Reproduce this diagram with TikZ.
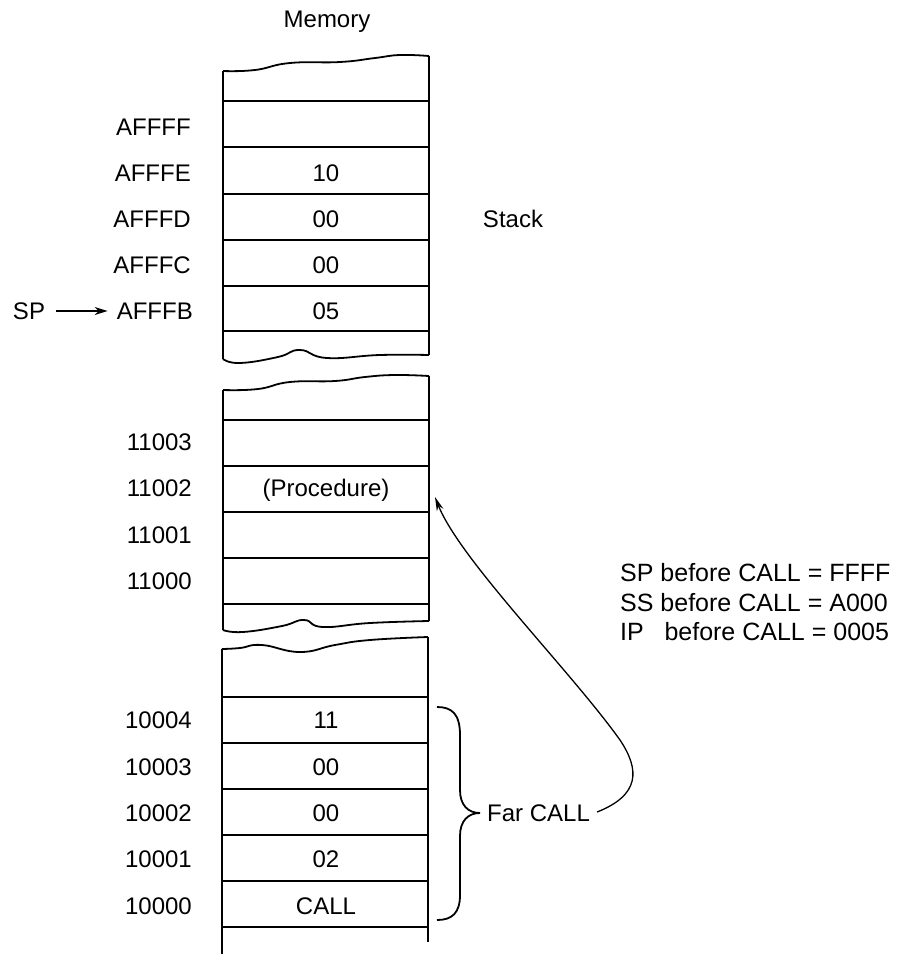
\documentclass[tikz,border=0pt]{standalone}
\usepackage{fontspec}
\setmainfont{Liberation Sans}
\usetikzlibrary{arrows.meta}
\begin{document}
\begin{tikzpicture}[x=1pt,y=-1pt,
  mem/.style={line width=1.8pt,line join=round},
  wavy/.style={mem,smooth,tension=0.8},
  txt/.style={inner sep=0pt,font=\fontsize{24}{28}\selectfont},
  addr/.style={txt,anchor=east},
  cell/.style={txt},
  note/.style={inner sep=0pt,anchor=west,font=\fontsize{25}{28}\selectfont},
  arr/.style={line width=1.3pt,-{Stealth[length=14pt,width=7pt]}}]
\useasboundingbox (0,0) rectangle (904,954);

% ---------- block 1 (stack) ----------
\draw[mem] plot[smooth,tension=0.8] coordinates {(223,71) (255,70) (290,63) (340,62) (375,58) (400,55) (429,56)};
\draw[mem] plot[smooth,tension=0.8] coordinates {(223,359) (240,363) (278,357) (300,350) (327,358) (380,355) (429,355)};
\draw[mem] (223,71) -- (223,359);
\draw[mem] (429,56) -- (429,355);
\foreach \y in {101,147,194,240,286,331} \draw[mem] (223,\y) -- (429,\y);

% ---------- block 2 (procedure) ----------
\draw[mem] plot[smooth,tension=0.8] coordinates {(223,390) (258,389) (290,382) (335,381) (365,377) (395,375) (429,376)};
\draw[mem] plot[smooth,tension=0.8] coordinates {(223,630) (243,632) (282,626) (304,620) (323,627) (370,623) (429,621)};
\draw[mem] (223,390) -- (223,630);
\draw[mem] (429,376) -- (429,621);
\foreach \y in {420,466,512,558,604} \draw[mem] (223,\y) -- (429,\y);

% ---------- block 3 (code) ----------
\draw[mem] plot[smooth,tension=0.8] coordinates {(222,649) (240,648) (262,645) (300,652) (335,645) (370,640) (428,637)};
\draw[mem] (222,649) -- (222,954);
\draw[mem] (428,637) -- (428,942);
\foreach \y in {697,743,789,835,881,927} \draw[mem] (222,\y) -- (428,\y);

% ---------- titles ----------
\node[txt] (memory) at (327,22) {Memory};
\node[txt] (stack) at (513,219) {Stack};

% ---------- addresses ----------
\node[addr] (aFFFF) at (191,127) {AFFFF};
\node[addr] (aFFFE) at (191,173) {AFFFE};
\node[addr] (aFFFD) at (191,219) {AFFFD};
\node[addr] (aFFFC) at (191,265) {AFFFC};
\node[addr] (aFFFB) at (193,311) {AFFFB};
\node[addr] (a11003) at (192,442) {11003};
\node[addr] (a11002) at (192,488) {11002};
\node[addr] (a11001) at (192,535) {11001};
\node[addr] (a11000) at (192,581) {11000};
\node[addr] (a10004) at (192,720) {10004};
\node[addr] (a10003) at (192,767) {10003};
\node[addr] (a10002) at (192,813) {10002};
\node[addr] (a10001) at (192,859) {10001};
\node[addr] (a10000) at (192,906) {10000};

% ---------- cell contents ----------
\node[cell] (cFFFE) at (326,173) {10};
\node[cell] (cFFFD) at (326,219) {00};
\node[cell] (cFFFC) at (326,265) {00};
\node[cell] (cFFFB) at (326,311) {05};
\node[cell] (c11002) at (326,490) {(Procedure)};
\node[cell] (c10004) at (326,720) {11};
\node[cell] (c10003) at (326,767) {00};
\node[cell] (c10002) at (326,813) {00};
\node[cell] (c10001) at (326,859) {02};
\node[cell] (c10000) at (326,906) {CALL};

% ---------- SP pointer ----------
\node[txt] (sp) at (29,311) {SP};
\draw[line width=1.2pt,-{Stealth[length=13pt,width=8pt]}] (sp.east) ++(11,0) coordinate (spstart) (spstart) -- ([xshift=-9pt]aFFFB.west);

% ---------- brace and Far CALL ----------
\draw[line width=1.8pt] (437,707) .. controls (452,707) and (460,714) .. (460,735)
  -- (460,790) .. controls (460,805) and (468,813) .. (480,813)
  .. controls (468,813) and (460,821) .. (460,836)
  -- (460,895) .. controls (460,913) and (452,920) .. (437,920);
\node[txt,anchor=west] (farcall) at (487,813) {Far CALL};

\coordinate (proctarget) at (435,497);
\draw[arr] ([xshift=7pt,yshift=1pt]farcall.east) .. controls (640,795) and (640,770) .. (620,740)
  .. controls (570,670) and (460,560) .. (proctarget);

% ---------- register notes ----------
\node[note] (n1) at (620,573) {SP before CALL = FFFF};
\node[note] (n2) at (620,603) {SS before CALL = A000};
\node[note] (n3) at (620,632) {IP\hspace{0.55em} before CALL = 0005};
\end{tikzpicture}
\end{document}
